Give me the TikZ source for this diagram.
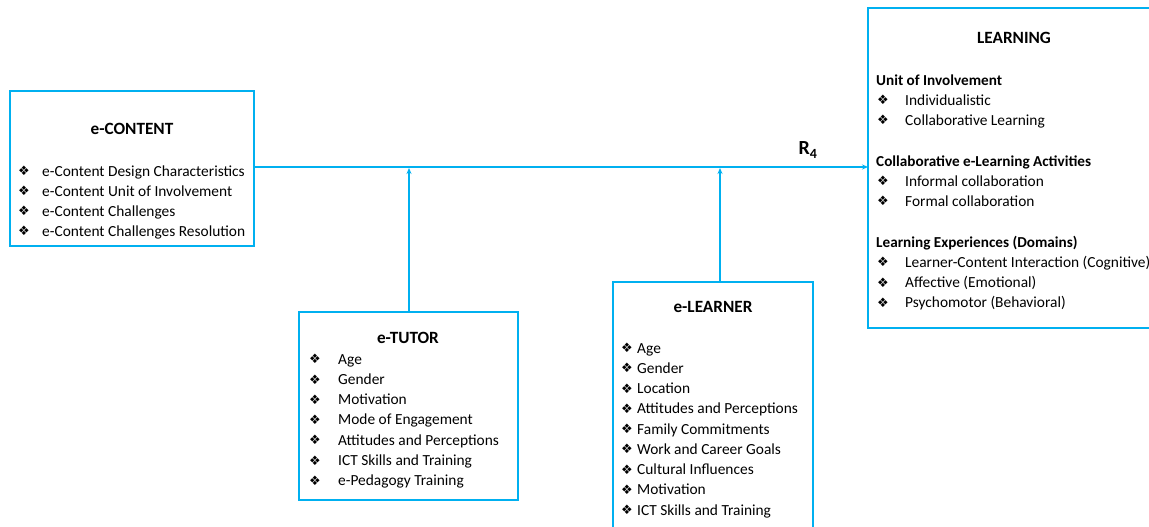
\documentclass[tikz,border=0pt]{standalone}
\usepackage{fontspec}
\setmainfont{Carlito}
\newfontfamily\symfont{DejaVu Sans}
\usetikzlibrary{arrows.meta}
\definecolor{linkblue}{RGB}{0,176,240}
\newcommand{\dia}{{\symfont\fontsize{13}{14}\selectfont\raisebox{0.3pt}{\char"2756}}}
\begin{document}
\begin{tikzpicture}[x=1pt,y=-1pt,
  box/.style={draw=linkblue,line width=2pt},
  link/.style={draw=linkblue,line width=1.6pt,-{Stealth[length=6pt,width=5pt]}},
  title/.style={font=\fontsize{17.2}{20}\selectfont\bfseries,inner sep=0pt},
  head/.style={font=\fontsize{15.2}{18}\selectfont\bfseries,anchor=base west,inner sep=0pt},
  item/.style={font=\fontsize{15.4}{18}\selectfont,anchor=base west,inner sep=0pt}]
\useasboundingbox (0,0) rectangle (1149,527);
\fill[white] (0,0) rectangle (1149,527);

% boxes
\draw[box] (10,91) rectangle (254,246);
\draw[box] (299,312) rectangle (518,500);
\draw[box] (613,282) rectangle (813,540);
\draw[box] (868,8) rectangle (1160,328);

\node[title] (tc) at (132,129) {e-CONTENT};
\node[title] (tt) at (408,338) {e-TUTOR};
\node[title] (tl) at (713,307) {e-LEARNER};
\node[title] (tg) at (1014,38) {LEARNING};

% e-CONTENT items
\foreach \t [count=\i] in {e-Content Design Characteristics,e-Content Unit of Involvement,e-Content Challenges,e-Content Challenges Resolution}
  \node[item] (c\i) at (18,{176+20*(\i-1)}) {\makebox[24pt][l]{\dia}\t};

% e-TUTOR items
\foreach \t [count=\i] in {Age,Gender,Motivation,Mode of Engagement,Attitudes and Perceptions,ICT Skills and Training,e-Pedagogy Training}
  \node[item] (u\i) at (309,{364+20.3*(\i-1)}) {\makebox[29pt][l]{\dia}\t};

% e-LEARNER items
\foreach \t [count=\i] in {Age,Gender,Location,Attitudes and Perceptions,Family Commitments,Work and Career Goals,Cultural Influences,Motivation,ICT Skills and Training}
  \node[item] (l\i) at (621,{353+20.25*(\i-1)}) {\makebox[16pt][l]{\dia}\t};

% LEARNING groups
\node[head] (h1) at (876,85) {Unit of Involvement};
\node[head] (h2) at (876,166) {Collaborative e-Learning Activities};
\node[head] (h3) at (876,247) {Learning Experiences (Domains)};
\foreach \t [count=\i] in {Individualistic,Collaborative Learning}
  \node[item] (a\i) at (877,{105+20*(\i-1)}) {\makebox[28pt][l]{\dia}\t};
\foreach \t [count=\i] in {Informal collaboration,Formal collaboration}
  \node[item] (b\i) at (877,{186+20*(\i-1)}) {\makebox[28pt][l]{\dia}\t};
\foreach \t [count=\i] in {Learner-Content Interaction (Cognitive),Affective (Emotional),Psychomotor (Behavioral)}
  \node[item] (d\i) at (877,{267+20.3*(\i-1)}) {\makebox[28pt][l]{\dia}\t};

% connectors
\coordinate (cs) at (254,167);
\coordinate (ge) at (868,167);
\coordinate (tj) at (409,168);
\coordinate (lj) at (720,168);
\coordinate (ttop) at (409,312);
\coordinate (ltop) at (720,282);
\draw[link] (cs) -- (ge);
\draw[link] (ttop) -- (tj);
\draw[link] (ltop) -- (lj);
\node[font=\fontsize{20}{24}\selectfont\bfseries,inner sep=0pt] (r4) at (808,150) {R$_{\mathbf 4}$};
\end{tikzpicture}
\end{document}
